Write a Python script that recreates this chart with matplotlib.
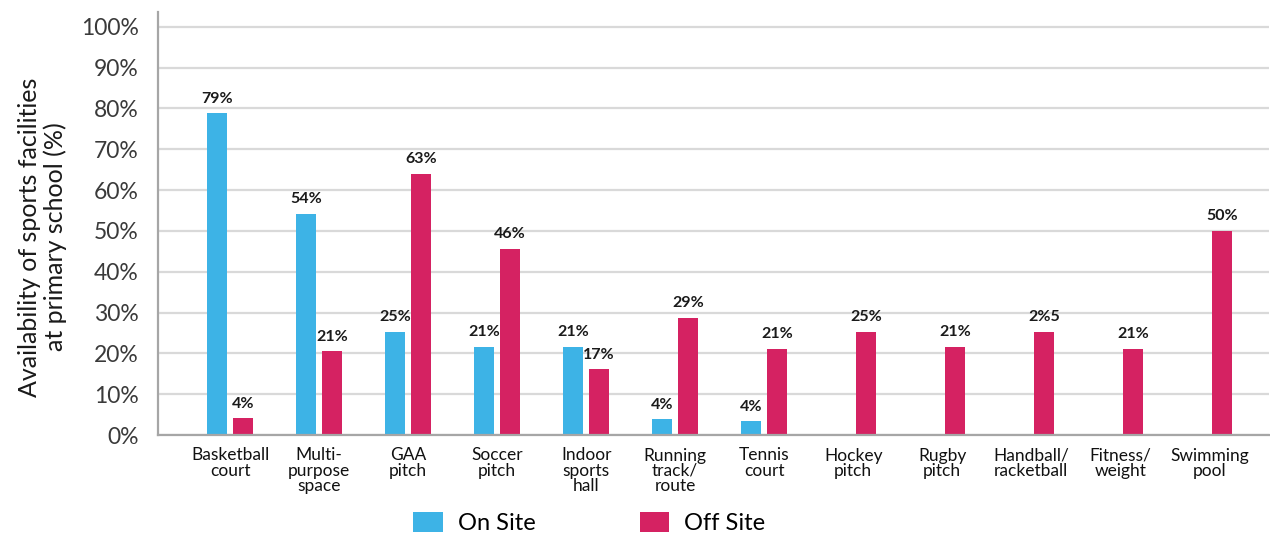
import matplotlib
matplotlib.use("Agg")
import matplotlib.pyplot as plt
import numpy as np
from matplotlib.patches import Patch

plt.rcParams['font.family'] = ['Lato', 'DejaVu Sans']

categories = ["Basketball\ncourt", "Multi-\npurpose\nspace", "GAA\npitch", "Soccer\npitch",
              "Indoor\nsports\nhall", "Running\ntrack/\nroute", "Tennis\ncourt", "Hockey\npitch",
              "Rugby\npitch", "Handball/\nracketball", "Fitness/\nweight", "Swimming\npool"]
on_site = [78.8, 54.2, 25.3, 21.6, 21.6, 3.9, 3.4, None, None, None, None, None]
off_site = [4.1, 20.6, 64.0, 45.6, 16.2, 28.7, 21.1, 25.3, 21.6, 25.3, 21.1, 50.0]
on_labels = ["79%", "54%", "25%", "21%", "21%", "4%", "4%", "", "", "", "", ""]
off_labels = ["4%", "21%", "63%", "46%", "17%", "29%", "21%", "25%", "21%", "2%5", "21%", "50%"]
yticks = [0, 10, 20, 30, 40, 50, 60, 70, 80, 90, 100]
ytick_labels = [f"{v}%" for v in yticks]
legend_labels = ["On Site", "Off Site"]

BLUE = "#3DB3E6"
RED = "#D52262"

fig = plt.figure(figsize=(12.7, 5.34), dpi=100)
ax = fig.add_axes([158/1270, 1-435/534, (1269-158)/1270, (435-12)/534])

x = np.arange(len(categories))
w = 0.225
off = 0.146

for i in range(len(categories)):
    if on_site[i] is not None:
        ax.bar(x[i]-off, on_site[i], width=w, color=BLUE, zorder=3)
        ax.text(x[i]-off, on_site[i]+1.8, on_labels[i], ha='center', va='bottom',
                fontsize=11.5, fontweight='bold', color='#1a1a1a', zorder=4)
    ax.bar(x[i]+off, off_site[i], width=w, color=RED, zorder=3)
    ax.text(x[i]+off, off_site[i]+1.8, off_labels[i], ha='center', va='bottom',
            fontsize=11.5, fontweight='bold', color='#1a1a1a', zorder=4)

ax.set_xlim(-0.809, 11.67)
ax.set_ylim(0, 103.6)
ax.set_yticks(yticks)
ax.set_yticklabels(ytick_labels, fontsize=16.5, color='#3a3a3a')
ax.set_xticks(x)
ax.set_xticklabels(categories, fontsize=12.5, color='#111111', linespacing=0.95, va='top')
ax.tick_params(axis='x', length=0, pad=9)
ax.tick_params(axis='y', length=0, pad=14)

ax.grid(axis='y', color='#d9d9d9', linewidth=1.6, zorder=0)
ax.set_axisbelow(True)
for s in ['top', 'right']:
    ax.spines[s].set_visible(False)
for s in ['left', 'bottom']:
    ax.spines[s].set_color('#a6a6a6')
    ax.spines[s].set_linewidth(1.6)
    ax.spines[s].set_zorder(5)

ax.set_ylabel("Availability of sports facilities\nat primary school (%)", fontsize=18,
              color='#1a1a1a', linespacing=1.1)
ax.yaxis.set_label_coords((67-158)/(1269-158), (435-237)/(435-12))

handles = [Patch(facecolor=BLUE, edgecolor='none'), Patch(facecolor=RED, edgecolor='none')]
fig.legend(handles, legend_labels, loc='lower left', bbox_to_anchor=(413/1270, 0.0),
           ncol=2, frameon=False, fontsize=17, handlelength=1.27, handleheight=0.95,
           columnspacing=4.4, handletextpad=0.63, borderpad=0.0, borderaxespad=0.0)

fig.savefig("out.png", dpi=100)
